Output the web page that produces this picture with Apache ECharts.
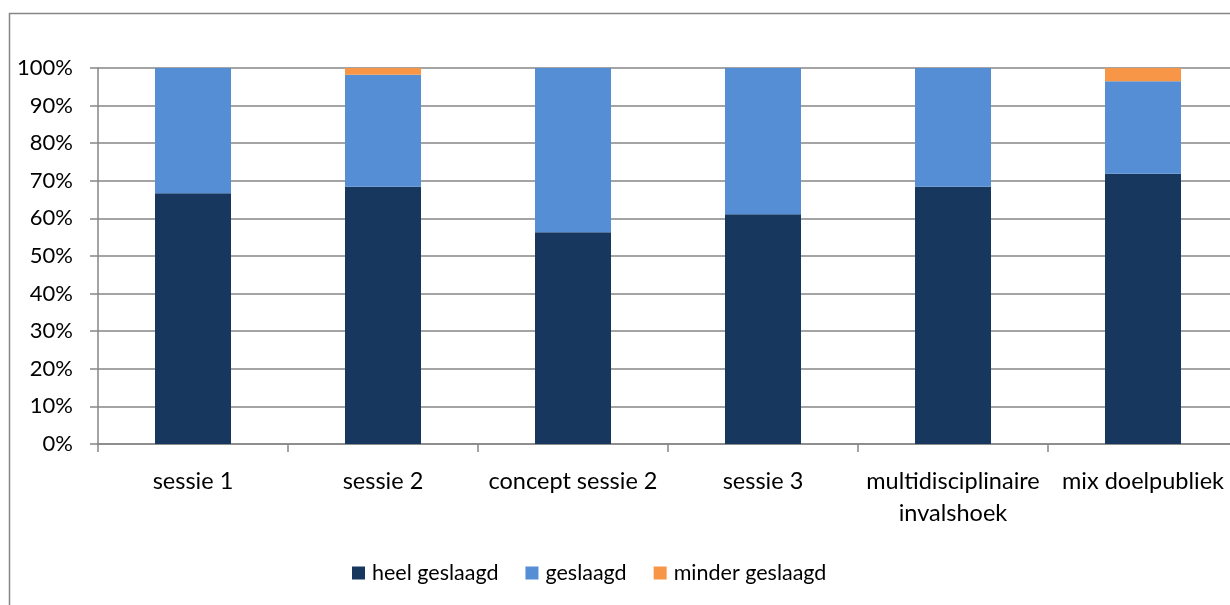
<!DOCTYPE html>
<html>
<head>
<meta charset="utf-8">
<script src="https://cdn.jsdelivr.net/npm/echarts@6/dist/echarts.min.js"></script>
<style>
  html, body { margin: 0; padding: 0; background: #fff; }
  #chart { width: 1230px; height: 605px; }
</style>
</head>
<body>
<div id="chart"></div>
<script>
const categories = ['sessie 1', 'sessie 2', 'concept sessie 2', 'sessie 3', 'multidisciplinaire\ninvalshoek', 'mix doelpubliek']
const heelGeslaagd = [66.7, 68.4, 56.3, 61.1, 68.4, 71.9]
const geslaagd = [33.3, 29.8, 43.7, 38.9, 31.6, 24.6]
const minderGeslaagd = [0, 1.8, 0, 0, 0, 3.5]

const font = 'Lato, "Open Sans", sans-serif'
const grey = '#868686'

const chart = echarts.init(document.getElementById('chart'))
const option = {
  animation: false,
  textStyle: {fontFamily: font},
  graphic: [
    {
      type: 'rect',
      shape: {x: 9.5, y: 13.5, width: 1250, height: 620},
      style: {fill: 'none', stroke: grey, lineWidth: 1.5},
      silent: true
    }
  ],
  legend: {
    left: 347,
    top: 557,
    itemWidth: 13,
    itemHeight: 13,
    itemGap: 27,
    icon: 'rect',
    textStyle: {fontSize: 21.5, color: '#000', fontFamily: font, padding: [0, 0, 0, 2]},
    data: ['heel geslaagd', 'geslaagd', 'minder geslaagd']
  },
  grid: {
    left: 98,
    right: -8,
    top: 68,
    bottom: 161,
    containLabel: false,
    outerBoundsMode: 'none'
  },
  xAxis: {
    type: 'category',
    data: categories,
    axisLine: {lineStyle: {color: grey, width: 1.5}},
    axisTick: {show: true, length: 8, lineStyle: {color: grey, width: 1.5}},
    axisLabel: {
      interval: 0,
      margin: 21,
      fontSize: 23.5,
      lineHeight: 32,
      color: '#000',
      fontFamily: font
    }
  },
  yAxis: {
    type: 'value',
    min: 0,
    max: 100,
    interval: 10,
    axisLine: {show: true, lineStyle: {color: grey, width: 1.5}},
    axisTick: {show: true, length: 8, lineStyle: {color: grey, width: 1.5}},
    splitLine: {lineStyle: {color: grey, width: 1.5}},
    axisLabel: {
      formatter: '{value}%',
      margin: 25,
      fontSize: 22,
      color: '#000',
      fontFamily: font
    }
  },
  series: [
    {
      name: 'heel geslaagd',
      type: 'bar',
      stack: 'total',
      barWidth: '40%',
      itemStyle: {color: '#17375E'},
      data: heelGeslaagd
    },
    {
      name: 'geslaagd',
      type: 'bar',
      stack: 'total',
      barWidth: '40%',
      itemStyle: {color: '#558ED5'},
      data: geslaagd
    },
    {
      name: 'minder geslaagd',
      type: 'bar',
      stack: 'total',
      barWidth: '40%',
      itemStyle: {color: '#F79646'},
      data: minderGeslaagd
    }
  ]
}
chart.setOption(option)
window.addEventListener('resize', function () {
  chart.resize()
})
</script>
</body>
</html>
